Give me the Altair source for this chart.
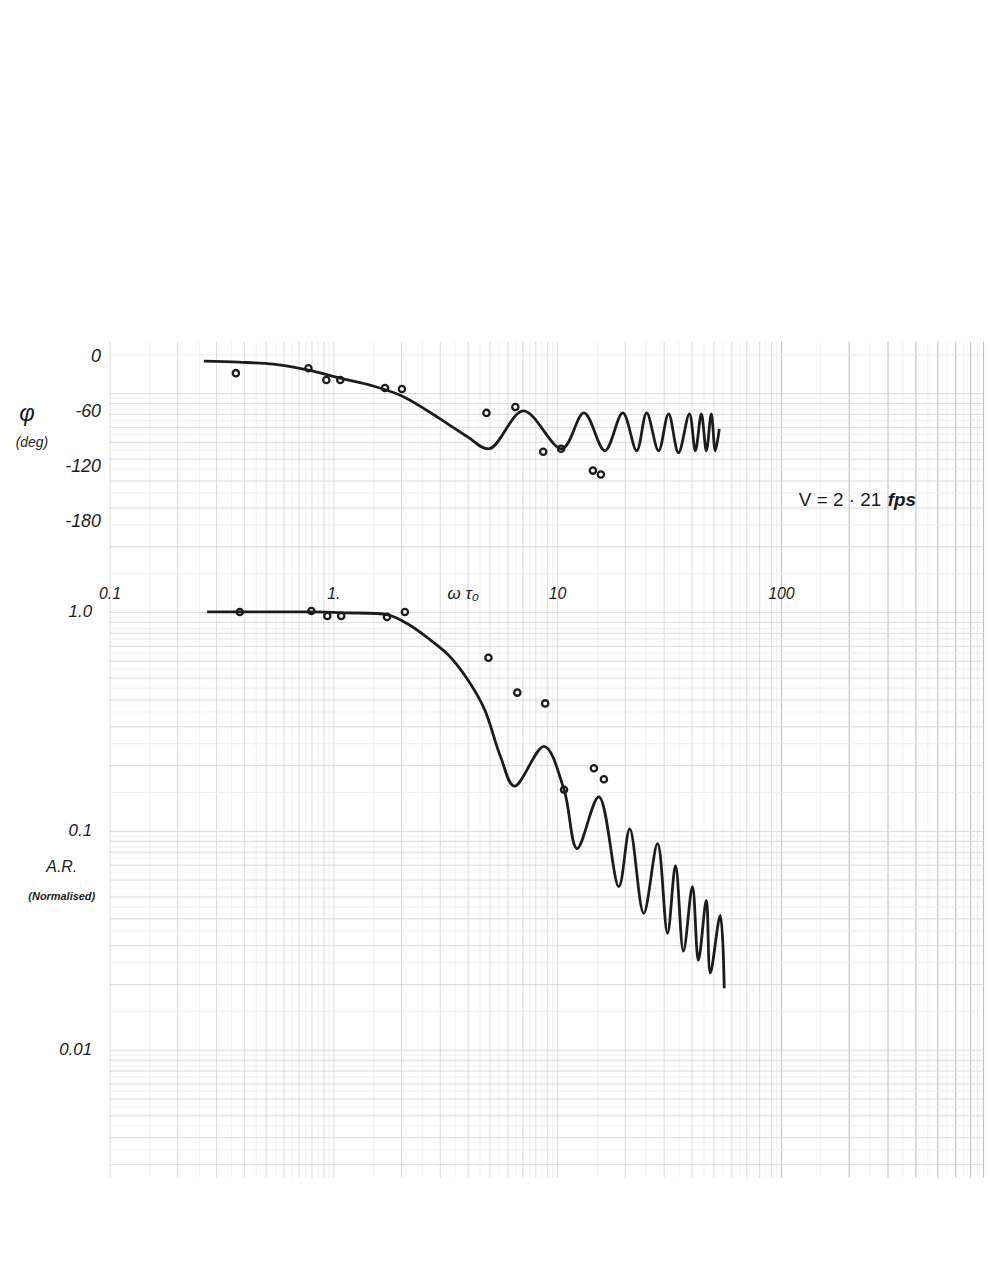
import altair as alt
import pandas as pd

# ---------------- values ----------------
# phase panel: measured points (open circles)
phase_pts_w = [0.367, 0.774, 0.931, 1.074, 1.702, 2.026, 4.835, 6.506, 8.667, 10.42, 14.45, 15.69]
phase_pts_deg = [-18.4, -13.0, -25.9, -25.9, -34.6, -35.7, -61.6, -55.1, -103.8, -100.5, -124.3, -128.6]

# phase panel: drawn curve (traced points)
phase_curve_w = [0.264, 0.378, 0.541, 0.774, 1.074, 1.506, 2.026, 2.644, 3.245, 3.981, 4.986,
                 7.063, 10.52, 13.18, 16.35, 19.65, 22.68, 25.12, 28.40, 31.47, 34.85,
                 39.00, 41.47, 44.10, 46.42, 48.86, 50.89, 53.03]
phase_curve_deg = [-5.4, -6.5, -8.6, -15.1, -23.8, -32.4, -43.2, -59.5, -73.5, -87.6, -100.5,
                   -59.5, -100.5, -61.6, -102.7, -61.6, -102.7, -61.6, -102.7, -62.7, -104.9,
                   -62.7, -102.7, -62.7, -102.7, -62.7, -102.7, -78.9]

# amplitude-ratio panel: measured points
ar_pts_w = [0.382, 0.798, 0.940, 1.085, 1.738, 2.089, 4.935, 6.640, 8.845, 10.74, 14.60, 16.18]
ar_pts_val = [1.0, 1.01, 0.959, 0.959, 0.949, 1.0, 0.618, 0.428, 0.382, 0.154, 0.193, 0.172]

# amplitude-ratio panel: drawn curve
ar_curve_w = [0.273, 0.464, 0.774, 1.131, 1.756, 2.154, 2.644, 3.245, 3.981, 4.738, 5.580, 6.442,
              8.754, 10.74, 12.27, 15.37, 18.86, 21.11, 24.36, 28.11, 31.13, 33.81, 36.68,
              40.23, 42.77, 46.42, 48.35, 53.56, 55.81]
ar_curve_val = [1.0, 1.0, 1.0, 0.990, 0.969, 0.880, 0.760, 0.640, 0.491, 0.359, 0.219, 0.160,
                0.243, 0.154, 0.083, 0.143, 0.0556, 0.102, 0.042, 0.0873, 0.034, 0.0693, 0.0282,
                0.0556, 0.0256, 0.0481, 0.0224, 0.0411, 0.0191]

# tick labels
phase_ticks = [0, -60, -120, -180]
ar_ticks = [1.0, 0.1, 0.01]
w_ticks = [0.1, 1, 10, 100]

# annotations (centred)
ann_italic = ["φ", "(deg)", "A.R."]
ann_italic_w = [0.0428, 0.0450, 0.0612]
ann_italic_deg = [-62.7, -94.0, -554.6]
ann_italic_fs = [24, 14, 16]

ann_norm = ["(Normalised)"]
ann_norm_w = [0.0612]
ann_norm_deg = [-588.1]
ann_norm_fs = [11]

# annotations (left aligned)
ann_plain = ["V = 2 · 21"]
ann_plain_w = [120.2]
ann_plain_deg = [-156.8]
ann_plain_fs = [19]

ann_fps = ["fps"]
ann_fps_w = [300.0]
ann_fps_deg = [-156.8]
ann_fps_fs = [19]

# ---------------- scales / layout ----------------
X_DOMAIN = [0.1, 800]
PH_DOMAIN = [-891.9, 16.2]
AR_DOMAIN = [0.002619, 17.23]
W, H = 878, 840
FONT = "Liberation Sans"
INK = "#1c1c1c"
GRID = "#d2d2d2"
GRID_DARK = "#ababab"
GRID_MINOR = "#ececec"

x_grid = [m * 10.0 ** k for k in range(-1, 3) for m in range(1, 10)
          if X_DOMAIN[0] <= m * 10.0 ** k <= X_DOMAIN[1]]
x_minor = [(m + 0.5) * 10.0 ** k for k in range(-1, 3) for m in range(1, 10)
           if X_DOMAIN[0] <= (m + 0.5) * 10.0 ** k <= X_DOMAIN[1]]
ar_grid = [m * 10.0 ** k for k in range(-3, 2) for m in range(1, 10)
           if AR_DOMAIN[0] <= m * 10.0 ** k <= AR_DOMAIN[1]]
ar_minor = [(m + 0.5) * 10.0 ** k for k in range(-3, 2) for m in range(1, 10)
            if AR_DOMAIN[0] <= (m + 0.5) * 10.0 ** k <= AR_DOMAIN[1]]

xscale = alt.Scale(type="log", domain=X_DOMAIN, nice=False)
phscale = alt.Scale(type="linear", domain=PH_DOMAIN, nice=False, zero=False)
arscale = alt.Scale(type="log", domain=AR_DOMAIN, nice=False)


def grid_axis(values, color, orient):
    return alt.Axis(values=values, grid=True, gridColor=color, gridWidth=0.8,
                    labels=False, ticks=False, domain=False, title=None, orient=orient)


phase_curve = pd.DataFrame({"w": phase_curve_w, "deg": phase_curve_deg})
phase_pts = pd.DataFrame({"w": phase_pts_w, "deg": phase_pts_deg})
ar_curve = pd.DataFrame({"w": ar_curve_w, "ar": ar_curve_val})
ar_pts = pd.DataFrame({"w": ar_pts_w, "ar": ar_pts_val})

l_phase_pts = alt.Chart(phase_pts).mark_point(
    shape="circle", filled=False, size=40, strokeWidth=2.3, color=INK, opacity=1
).encode(
    x=alt.X("w:Q", scale=xscale, axis=grid_axis(x_minor, GRID_MINOR, "bottom")),
    y=alt.Y("deg:Q", scale=phscale, axis=None),
)

l_ar_pts = alt.Chart(ar_pts).mark_point(
    shape="circle", filled=False, size=40, strokeWidth=2.3, color=INK, opacity=1
).encode(
    x=alt.X("w:Q", scale=xscale, axis=None),
    y=alt.Y("ar:Q", scale=arscale, axis=grid_axis(ar_minor, GRID_MINOR, "right")),
)

x_major_axis = alt.Axis(
    values=x_grid, grid=True, gridWidth=0.8,
    gridColor={"condition": {"test": "datum.value >= 99", "value": GRID_DARK}, "value": GRID},
    labels=False, ticks=False, domain=False, title=None, orient="top")

l_phase_curve = alt.Chart(phase_curve).mark_line(
    interpolate="catmull-rom", strokeWidth=2.8, color=INK
).encode(
    x=alt.X("w:Q", scale=xscale, axis=x_major_axis),
    y=alt.Y("deg:Q", scale=phscale, axis=alt.Axis(
        values=phase_ticks, grid=False, ticks=False, domain=False, title=None,
        orient="left", labelPadding=9, labelFont=FONT, labelFontStyle="italic",
        labelFontSize=18, labelColor=INK, labelOverlap=False,
        labelExpr="datum.value == 0 ? '0' : '-' + (-datum.value)")),
)

l_ar_curve = alt.Chart(ar_curve).mark_line(
    interpolate="catmull-rom", strokeWidth=2.8, color=INK
).encode(
    x=alt.X("w:Q", scale=xscale, axis=alt.Axis(
        values=w_ticks, grid=False, ticks=False, domain=False, orient="bottom",
        offset=-(H - 242), labelPadding=3, labelFont=FONT, labelFontStyle="italic",
        labelFontSize=16, labelColor=INK, labelFlush=False, labelOverlap=False,
        labelExpr="datum.value < 0.5 ? '0.1' : datum.value < 5 ? '1.' : datum.value < 50 ? '10' : '100'",
        title="ω τ₀", titleX=355, titleY=3, titleAlign="center", titleBaseline="top",
        titleAngle=0, titleFont=FONT, titleFontStyle="italic", titleFontWeight="normal",
        titleFontSize=17, titleColor=INK)),
    y=alt.Y("ar:Q", scale=arscale, axis=alt.Axis(
        values=ar_grid, grid=True, gridColor=GRID, gridWidth=0.8, ticks=False, domain=False,
        title=None, orient="left", labelPadding=18, labelFont=FONT, labelFontStyle="italic",
        labelFontSize=17, labelColor=INK, labelOverlap=False,
        labelExpr="abs(datum.value - 1) < 1e-9 ? '1.0' : abs(datum.value - 0.1) < 1e-9 ? '0.1' : abs(datum.value - 0.01) < 1e-9 ? '0.01' : ''")),
)


def text_layer(labels, ws, degs, sizes, style, weight, align):
    df = pd.DataFrame({"t": labels, "w": ws, "deg": degs, "fs": sizes})
    return alt.Chart(df).mark_text(
        font=FONT, fontStyle=style, fontWeight=weight, color=INK,
        align=align, baseline="middle"
    ).encode(
        x=alt.X("w:Q", scale=xscale, axis=None),
        y=alt.Y("deg:Q", scale=phscale, axis=None),
        text="t:N",
        size=alt.Size("fs:Q", scale=None, legend=None),
    )


l_ann1 = text_layer(ann_italic, ann_italic_w, ann_italic_deg, ann_italic_fs, "italic", "normal", "center")
l_ann2 = text_layer(ann_norm, ann_norm_w, ann_norm_deg, ann_norm_fs, "italic", "bold", "center")
l_ann3 = text_layer(ann_plain, ann_plain_w, ann_plain_deg, ann_plain_fs, "normal", "normal", "left")
l_ann4 = text_layer(ann_fps, ann_fps_w, ann_fps_deg, ann_fps_fs, "italic", "bold", "left")

chart = alt.layer(
    l_phase_pts, l_ar_pts, l_phase_curve, l_ar_curve, l_ann1, l_ann2, l_ann3, l_ann4
).resolve_scale(
    x="independent", y="independent", size="independent"
).resolve_axis(
    x="independent", y="independent"
).properties(
    width=W, height=H,
    autosize=alt.AutoSizeParams(type="none"),
    padding={"left": 102, "top": 332, "right": 10, "bottom": 10},
    background="white",
).configure_view(strokeWidth=0)

chart.save("out.html", embed_options={"renderer": "svg", "actions": False})
